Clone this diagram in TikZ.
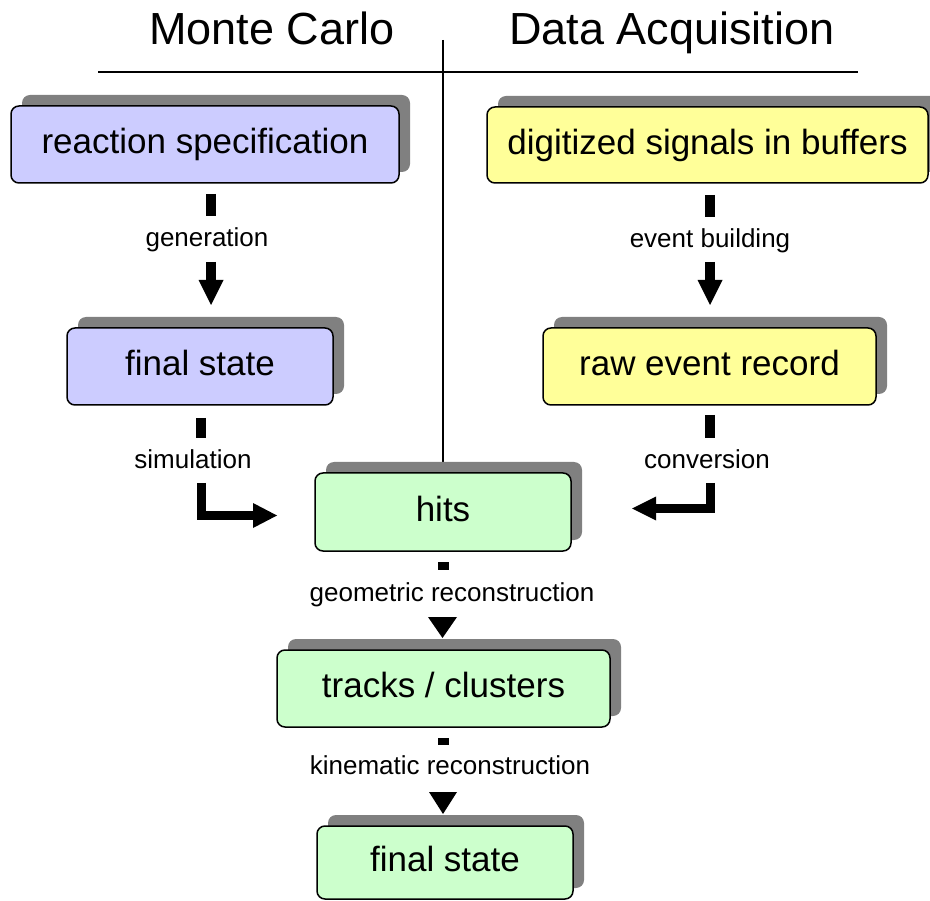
\documentclass[tikz,border=0pt]{standalone}
\usepackage{fontspec}
\setmainfont{Liberation Sans}
\usetikzlibrary{shadows,calc}
\definecolor{mcblue}{HTML}{CCCCFF}
\definecolor{daqyellow}{HTML}{FFFF99}
\definecolor{recgreen}{HTML}{CCFFCC}
\definecolor{shadowgray}{HTML}{808080}
\begin{document}
\begin{tikzpicture}[x=1pt,y=-1pt,
  box/.style={draw=black, line width=1.5pt, rounded corners=8pt, inner sep=0pt,
    font=\fontsize{35}{35}\selectfont, text height=18.2pt, text depth=0pt,
    general shadow={fill=shadowgray, shadow xshift=11pt, shadow yshift=11pt}},
  lbl/.style={inner sep=0pt, font=\fontsize{26}{26}\selectfont, text height=13.5pt, text depth=0pt},
  ttl/.style={inner sep=0pt, anchor=base, font=\fontsize{45}{45}\selectfont},
  bar/.style={line width=10pt, line cap=butt},
  lbar/.style={line width=9pt, line cap=butt, line join=miter},
  head/.style={fill=black, draw=none},
  rule/.style={line width=1.5pt}]
\useasboundingbox (0,0) rectangle (930,901);

% titles and rules
\node[ttl] (mc) at (272,45) {Monte Carlo};
\node[ttl] (daq) at (672,45) {Data Acquisition};
\coordinate (hl) at (98,72);
\coordinate (hr) at (858,72);
\coordinate (vt) at (443,40);
\coordinate (vb) at (443,463);
\draw[rule] (hl) -- (hr);
\draw[rule] (vt) -- (vb);

% boxes
\node[box, fill=mcblue, minimum width=388pt, minimum height=77pt] (react) at (205,144.5) {reaction specification};
\node[box, fill=mcblue, minimum width=266pt, minimum height=77pt] (mcfin) at (200,366.5) {final state};
\node[box, fill=daqyellow, minimum width=441pt, minimum height=76pt] (digit) at (707.5,145) {digitized signals in buffers};
\node[box, fill=daqyellow, minimum width=333pt, minimum height=77pt] (raw) at (709.5,366.5) {raw event record};
\node[box, fill=recgreen, minimum width=256pt, minimum height=78pt] (hits) at (443,512) {hits};
\node[box, fill=recgreen, minimum width=333pt, minimum height=77pt] (tracks) at (443.5,688.5) {tracks / clusters};
\node[box, fill=recgreen, minimum width=256pt, minimum height=73pt] (final) at (445,862.5) {final state};

% labels
\node[lbl] (gen) at (207,240) {generation};
\node[lbl] (evb) at (710,241) {event building};
\node[lbl] (sim) at (193,462) {simulation};
\node[lbl] (conv) at (707,462) {conversion};
\node[lbl] (geo) at (452,595) {geometric reconstruction};
\node[lbl] (kin) at (450,768) {kinematic reconstruction};

% generation
\draw[bar] (211,194) -- (211,216);
\draw[bar] (211,262) -- (211,282);
\fill[head] (198.5,280) -- (223.5,280) -- (211,305) -- cycle;
% event building
\draw[bar] (710,195) -- (710,217);
\draw[bar] (710,262) -- (710,282);
\fill[head] (697.5,280) -- (722.5,280) -- (710,305) -- cycle;
% simulation
\draw[bar] (201,418) -- (201,438);
\draw[lbar] (201,483) -- (201,515) -- (255,515);
\fill[head] (253,503) -- (277,515.5) -- (253,528) -- cycle;
% conversion
\draw[bar] (710,415) -- (710,438);
\draw[lbar] (710,483) -- (710,508) -- (654,508);
\fill[head] (656,496.5) -- (632,508.5) -- (656,520.5) -- cycle;
% geometric reconstruction
\fill (438,562) rectangle (449,570);
\fill[head] (428,617) -- (457,617) -- (442.5,638) -- cycle;
% kinematic reconstruction
\fill (438,738) rectangle (449,745);
\fill[head] (429,792) -- (457,792) -- (443,814) -- cycle;
\end{tikzpicture}
\end{document}
